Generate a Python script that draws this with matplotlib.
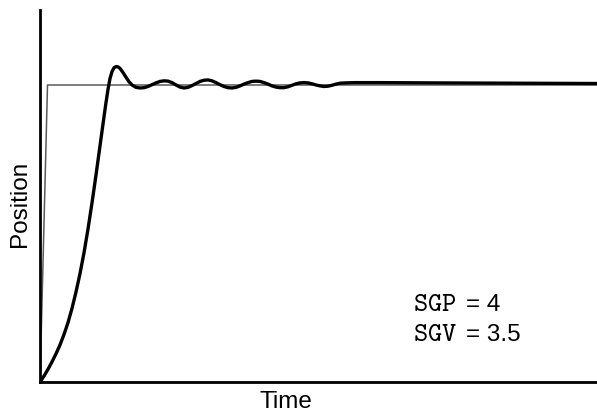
import matplotlib

matplotlib.use("Agg")
import matplotlib.pyplot as plt

# setpoint (thin line) and response (thick line), position normalised to setpoint = 1
SET_T = [0.0, 0.075, 5.57]
SET_Y = [0.0, 1.0, 1.0]

RESP_T = [0.00, 0.04, 0.08, 0.12, 0.16, 0.20, 0.24, 0.28, 0.32, 0.36, 0.40,
          0.44, 0.48, 0.52, 0.56, 0.60, 0.64, 0.66, 0.68, 0.70, 0.72, 0.74,
          0.76, 0.78, 0.80, 0.83, 0.86, 0.89, 0.92, 0.96, 1.00, 1.04, 1.08,
          1.12, 1.16, 1.20, 1.24, 1.28, 1.32, 1.36, 1.40, 1.44, 1.48, 1.52,
          1.56, 1.60, 1.64, 1.68, 1.72, 1.76, 1.80, 1.84, 1.88, 1.92, 1.96,
          2.00, 2.04, 2.08, 2.12, 2.16, 2.20, 2.24, 2.28, 2.32, 2.36, 2.40,
          2.44, 2.48, 2.52, 2.56, 2.60, 2.64, 2.68, 2.72, 2.76, 2.80, 2.84,
          2.88, 2.92, 2.96, 3.00, 3.05, 3.15, 3.40, 4.00, 5.57]
RESP_Y = [0.000, 0.020, 0.043, 0.068, 0.095, 0.125, 0.160, 0.200, 0.248, 0.303,
          0.365, 0.435, 0.515, 0.603, 0.697, 0.795, 0.893, 0.941, 0.985, 1.022,
          1.045, 1.058, 1.062, 1.061, 1.056, 1.042, 1.026, 1.011, 1.000, 0.992,
          0.990, 0.991, 0.995, 1.001, 1.007, 1.012, 1.014, 1.013, 1.008, 1.000,
          0.993, 0.990, 0.992, 0.998, 1.005, 1.012, 1.016, 1.017, 1.014, 1.008,
          1.001, 0.995, 0.991, 0.990, 0.992, 0.997, 1.003, 1.008, 1.012, 1.013,
          1.012, 1.008, 1.003, 0.997, 0.993, 0.991, 0.991, 0.994, 0.999, 1.004,
          1.007, 1.008, 1.007, 1.004, 1.000, 0.997, 0.995, 0.996, 0.999, 1.003,
          1.006, 1.007, 1.008, 1.008, 1.007, 1.005]

fig = plt.figure(figsize=(5.97, 4.17), dpi=100)
ax = fig.add_axes([40 / 597, 35 / 417, 557 / 597, 372 / 417])

ax.plot(SET_T, SET_Y, color="0.35", lw=1.1, zorder=1)
ax.plot(RESP_T, RESP_Y, color="black", lw=2.4, zorder=2, solid_capstyle="round")

ax.set_xlim(0, 5.57)
ax.set_ylim(0, 1.2525)
ax.set_xticks([])
ax.set_yticks([])
for side in ("top", "right"):
    ax.spines[side].set_visible(False)
for side in ("left", "bottom"):
    ax.spines[side].set_linewidth(2.0)

sans = "Liberation Sans"
fig.text(286 / 597, 1 - 402 / 417, "Time", fontsize=17.5, family=sans,
         ha="center", va="center")
fig.text(20 / 597, 1 - 204 / 417, "Position", fontsize=17.5, family=sans,
         rotation=90, ha="center", va="center")

for row, (name, val) in enumerate([("SGP", "4"), ("SGV", "3.5")]):
    yb = 1 - (311 + 30 * row) / 417
    fig.text(413 / 597, yb, r"$\mathtt{" + name + "}$", fontsize=19.5,
             math_fontfamily="cm", va="baseline")
    fig.text(466 / 597, yb, "= " + val, fontsize=17.5, family=sans, va="baseline")

fig.savefig("out.png", dpi=100)
